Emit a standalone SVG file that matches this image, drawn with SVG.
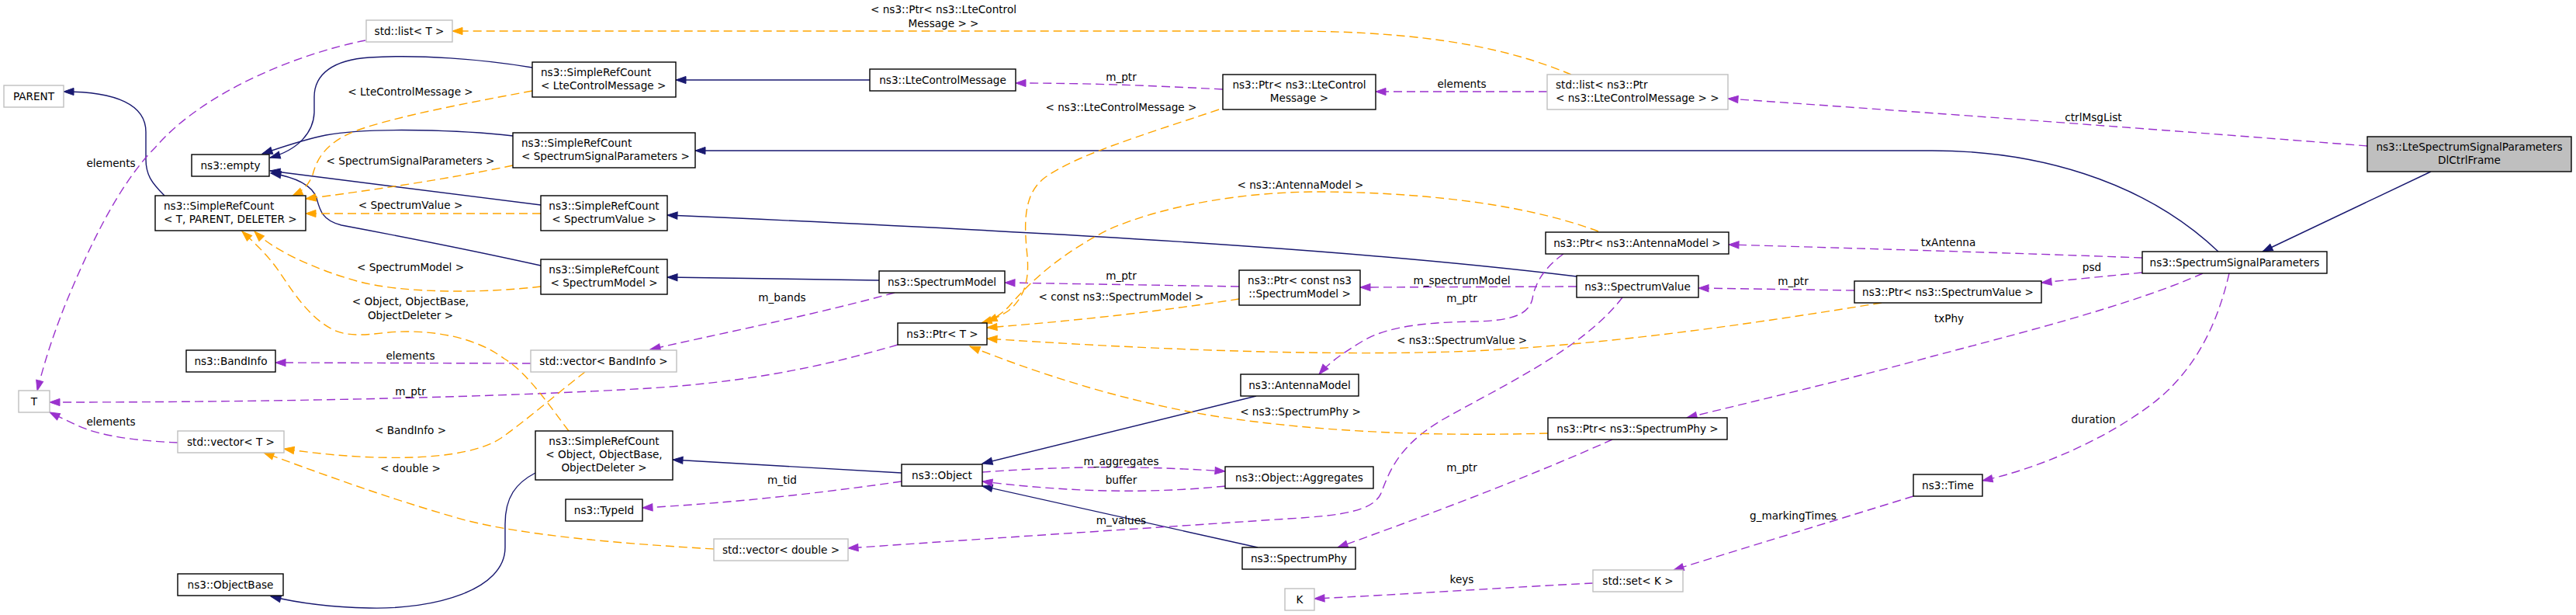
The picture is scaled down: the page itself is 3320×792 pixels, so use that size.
<svg xmlns="http://www.w3.org/2000/svg" width="3320" height="792" viewBox="0 0 3320 792">
<defs>
<style>
text{font-family:"DejaVu Sans","Liberation Sans",sans-serif;font-size:13.6px;fill:#000}
.nd rect{fill:#fff;stroke:#000;stroke-width:1.4}
.ug rect{stroke:#bfbfbf}
.hl rect{fill:#bfbfbf}
.m{text-anchor:middle}
#edges path{fill:none;stroke-width:1.4}
.inh{stroke:#191970;marker-end:url(#ab)}
.use{stroke:#9a32cd;stroke-dasharray:11,6;marker-end:url(#ap)}
.tpl{stroke:#ffa500;stroke-dasharray:11,6;marker-end:url(#ao)}
</style>
<marker id="ab" markerUnits="userSpaceOnUse" markerWidth="16" markerHeight="12" refX="13" refY="5" orient="auto" overflow="visible"><path d="M0,0.4 L13,5 L0,9.6 z" fill="#191970" stroke="#191970" stroke-width="1" stroke-dasharray="none"/></marker>
<marker id="ap" markerUnits="userSpaceOnUse" markerWidth="16" markerHeight="12" refX="13" refY="5" orient="auto" overflow="visible"><path d="M0,0.4 L13,5 L0,9.6 z" fill="#9a32cd" stroke="#9a32cd" stroke-width="1" stroke-dasharray="none"/></marker>
<marker id="ao" markerUnits="userSpaceOnUse" markerWidth="16" markerHeight="12" refX="13" refY="5" orient="auto" overflow="visible"><path d="M0,0.4 L13,5 L0,9.6 z" fill="#ffa500" stroke="#ffa500" stroke-width="1" stroke-dasharray="none"/></marker>
</defs>
<rect width="3320" height="792" fill="#fff"/>
<g id="edges">
<path class="inh" d="M212,252 C195,235 188,225 188,205 L188,170 C188,135 150,118 82,118"/>
<path class="inh" d="M686,87 C620,76 540,70 476,74 C430,77 405,95 405,125 L405,145 C404,170 385,193 348,203"/>
<path class="inh" d="M661,175 C600,168 480,163 420,174 C390,180 362,190 338,198"/>
<path class="inh" d="M697,264 L348,220"/>
<path class="inh" d="M697,342 C620,325 520,305 440,290 C415,284 412,270 408,255 C402,238 380,228 349,223"/>
<path class="inh" d="M1121,103 L871,103"/>
<path class="inh" d="M2859,324 C2760,230 2620,194 2490,194 L896,194"/>
<path class="inh" d="M2032,356 C1800,328 1500,305 860,277"/>
<path class="inh" d="M1133,361 L860,357"/>
<path class="inh" d="M1162,609 L867,592"/>
<path class="inh" d="M690,609 C665,622 651,640 651,675 L651,705 C651,760 560,785 476,783 C430,782 390,778 349,768"/>
<path class="inh" d="M1619,510 L1266,597"/>
<path class="inh" d="M1621,705 L1266,626"/>
<path class="inh" d="M3133,221 L2916,324"/>
<path class="use" d="M471,52 C380,70 260,120 200,190 C150,240 110,330 85,390 C65,440 55,475 48,503"/>
<path class="use" d="M229,570 C180,568 130,562 100,548 C85,541 72,535 64,531"/>
<path class="use" d="M684,468 L355,467"/>
<path class="use" d="M1157,444 C1050,475 950,495 800,502 C650,510 400,518 64,518"/>
<path class="use" d="M1153,377 C1050,405 950,425 838,450"/>
<path class="use" d="M1162,620 C1050,636 940,648 828,654"/>
<path class="use" d="M1266,608 C1350,602 1450,598 1579,607"/>
<path class="use" d="M1579,626 C1480,636 1380,634 1266,620"/>
<path class="use" d="M2091,383 C2040,450 1930,500 1860,540 C1800,575 1790,610 1780,635 C1770,658 1730,664 1660,668 C1450,682 1250,695 1093,706"/>
<path class="use" d="M2015,327 C1990,345 1978,365 1975,385 C1970,405 1950,413 1900,414 C1850,415 1790,418 1755,440 C1730,455 1712,468 1700,482"/>
<path class="use" d="M1576,115 C1480,110 1400,107 1309,107"/>
<path class="use" d="M1994,118 L1773,118"/>
<path class="use" d="M3051,188 C2800,168 2500,146 2227,127"/>
<path class="use" d="M2761,332 C2600,326 2400,320 2228,315"/>
<path class="use" d="M2761,351 L2631,364"/>
<path class="use" d="M2839,352 C2750,392 2600,430 2490,459 C2400,484 2280,512 2174,538"/>
<path class="use" d="M2873,352 C2855,430 2820,490 2760,530 C2700,572 2620,605 2555,619"/>
<path class="use" d="M2032,369 L1753,370"/>
<path class="use" d="M2390,374 L2189,371"/>
<path class="use" d="M1597,369 L1295,364"/>
<path class="use" d="M2078,566 C1980,610 1850,660 1724,705"/>
<path class="use" d="M2466,639 L2157,734"/>
<path class="use" d="M2053,751 C1950,756 1800,766 1694,771"/>
<path class="tpl" d="M2025,96 C1950,65 1850,40 1660,40 L583,40"/>
<path class="tpl" d="M1571,141 C1470,175 1385,200 1345,230 C1318,252 1320,290 1324,330 C1327,365 1318,385 1300,400 C1290,407 1278,412 1265,416"/>
<path class="tpl" d="M2060,298 C1980,268 1860,248 1700,247 C1600,247 1500,265 1430,295 C1370,325 1330,360 1300,395 C1290,405 1282,410 1272,414"/>
<path class="tpl" d="M1597,385 C1500,400 1400,412 1272,422"/>
<path class="tpl" d="M2425,390 C2300,410 2100,442 1900,452 C1700,460 1450,448 1272,436"/>
<path class="tpl" d="M1995,558 C1850,562 1700,557 1560,535 C1440,515 1330,478 1250,446"/>
<path class="tpl" d="M754,479 C720,505 680,540 646,564 C600,595 480,595 366,578"/>
<path class="tpl" d="M920,707 C800,700 680,690 600,670 C500,642 420,612 340,583"/>
<path class="tpl" d="M686,117 C600,133 510,150 460,168 C420,183 408,205 403,225 C398,238 390,246 377,252"/>
<path class="tpl" d="M661,213 C580,230 480,245 394,256"/>
<path class="tpl" d="M697,275 L394,275"/>
<path class="tpl" d="M697,369 C620,378 520,378 460,362 C400,345 350,320 328,298"/>
<path class="tpl" d="M733,555 C710,525 680,480 650,462 C620,440 580,428 529,427 C490,426 460,438 430,425 C400,410 380,380 360,350 C345,328 325,310 312,298"/>
</g>
<g id="labels" class="m">
<text x="143" y="215">elements</text>
<text x="529" y="123">&lt; LteControlMessage &gt;</text>
<text x="529" y="212">&lt; SpectrumSignalParameters &gt;</text>
<text x="529" y="269">&lt; SpectrumValue &gt;</text>
<text x="529" y="349">&lt; SpectrumModel &gt;</text>
<text x="529" y="393">&lt; Object, ObjectBase,</text>
<text x="529" y="411">ObjectDeleter &gt;</text>
<text x="529" y="463">elements</text>
<text x="529" y="509">m_ptr</text>
<text x="143" y="548">elements</text>
<text x="529" y="559">&lt; BandInfo &gt;</text>
<text x="529" y="608">&lt; double &gt;</text>
<text x="1216" y="17">&lt; ns3::Ptr&lt; ns3::LteControl</text>
<text x="1216" y="35">Message &gt; &gt;</text>
<text x="1445" y="104">m_ptr</text>
<text x="1445" y="143">&lt; ns3::LteControlMessage &gt;</text>
<text x="1676" y="243">&lt; ns3::AntennaModel &gt;</text>
<text x="1445" y="360">m_ptr</text>
<text x="1445" y="387">&lt; const ns3::SpectrumModel &gt;</text>
<text x="1008" y="388">m_bands</text>
<text x="1008" y="623">m_tid</text>
<text x="1445" y="599">m_aggregates</text>
<text x="1445" y="623">buffer</text>
<text x="1445" y="675">m_values</text>
<text x="1676" y="535">&lt; ns3::SpectrumPhy &gt;</text>
<text x="1884" y="113">elements</text>
<text x="2511" y="317">txAntenna</text>
<text x="1884" y="366">m_spectrumModel</text>
<text x="1884" y="389">m_ptr</text>
<text x="2311" y="367">m_ptr</text>
<text x="1884" y="443">&lt; ns3::SpectrumValue &gt;</text>
<text x="1884" y="607">m_ptr</text>
<text x="2311" y="669">g_markingTimes</text>
<text x="1884" y="751">keys</text>
<text x="2698" y="156">ctrlMsgList</text>
<text x="2696" y="349">psd</text>
<text x="2512" y="415">txPhy</text>
<text x="2698" y="545">duration</text>
</g>
<g id="n_parent" class="nd ug"><rect x="5" y="110" width="77" height="28"/><text class="m" x="43.5" y="128.5">PARENT</text></g>
<g id="n_stdlist_t" class="nd ug"><rect x="472" y="26" width="111" height="28"/><text class="m" x="527.5" y="44.5">std::list&lt; T &gt;</text></g>
<g id="n_empty" class="nd"><rect x="247" y="199" width="100" height="28"/><text class="m" x="297" y="217.5">ns3::empty</text></g>
<g id="n_src_t" class="nd"><rect x="200" y="252" width="194" height="45"/><text x="211" y="269.5">ns3::SimpleRefCount</text><text x="211" y="287">&lt; T, PARENT, DELETER &gt;</text></g>
<g id="n_src_lcm" class="nd"><rect x="686" y="80" width="185" height="45"/><text x="697" y="97.5">ns3::SimpleRefCount</text><text x="697" y="115">&lt; LteControlMessage &gt;</text></g>
<g id="n_src_ssp" class="nd"><rect x="661" y="171" width="235" height="45"/><text x="672" y="188.5">ns3::SimpleRefCount</text><text x="672" y="206">&lt; SpectrumSignalParameters &gt;</text></g>
<g id="n_src_sv" class="nd"><rect x="697" y="252" width="163" height="45"/><text class="m" x="778.5" y="269.5">ns3::SimpleRefCount</text><text class="m" x="778.5" y="287">&lt; SpectrumValue &gt;</text></g>
<g id="n_src_sm" class="nd"><rect x="697" y="334" width="163" height="45"/><text class="m" x="778.5" y="351.5">ns3::SimpleRefCount</text><text class="m" x="778.5" y="369">&lt; SpectrumModel &gt;</text></g>
<g id="n_src_obj" class="nd"><rect x="690" y="555" width="177" height="63"/><text class="m" x="778.5" y="573">ns3::SimpleRefCount</text><text class="m" x="778.5" y="590">&lt; Object, ObjectBase,</text><text class="m" x="778.5" y="607">ObjectDeleter &gt;</text></g>
<g id="n_bandinfo" class="nd"><rect x="240" y="451" width="115" height="28"/><text class="m" x="297.5" y="469.5">ns3::BandInfo</text></g>
<g id="n_t" class="nd ug"><rect x="24" y="503" width="40" height="28"/><text class="m" x="44" y="521.5">T</text></g>
<g id="n_vector_t" class="nd ug"><rect x="229" y="555" width="137" height="28"/><text class="m" x="297.5" y="573.5">std::vector&lt; T &gt;</text></g>
<g id="n_objectbase" class="nd"><rect x="229" y="739" width="136" height="28"/><text class="m" x="297" y="757.5">ns3::ObjectBase</text></g>
<g id="n_typeid" class="nd"><rect x="729" y="643" width="99" height="28"/><text class="m" x="778.5" y="661.5">ns3::TypeId</text></g>
<g id="n_ltecontrolmessage" class="nd"><rect x="1121" y="89" width="188" height="28"/><text class="m" x="1215" y="107.5">ns3::LteControlMessage</text></g>
<g id="n_ptr_lcm" class="nd"><rect x="1576" y="96" width="197" height="45"/><text class="m" x="1674.5" y="113.5">ns3::Ptr&lt; ns3::LteControl</text><text class="m" x="1674.5" y="131">Message &gt;</text></g>
<g id="n_spectrummodel" class="nd"><rect x="1133" y="349" width="162" height="28"/><text class="m" x="1214" y="367.5">ns3::SpectrumModel</text></g>
<g id="n_vector_bandinfo" class="nd ug"><rect x="684" y="451" width="188" height="28"/><text class="m" x="778" y="469.5">std::vector&lt; BandInfo &gt;</text></g>
<g id="n_ptr_t" class="nd"><rect x="1157" y="416" width="115" height="28"/><text class="m" x="1214.5" y="434.5">ns3::Ptr&lt; T &gt;</text></g>
<g id="n_ptr_csm" class="nd"><rect x="1597" y="348" width="156" height="45"/><text class="m" x="1675" y="365.5">ns3::Ptr&lt; const ns3</text><text class="m" x="1675" y="383">::SpectrumModel &gt;</text></g>
<g id="n_object" class="nd"><rect x="1162" y="598" width="104" height="28"/><text class="m" x="1214" y="616.5">ns3::Object</text></g>
<g id="n_antennamodel" class="nd"><rect x="1599" y="482" width="152" height="28"/><text class="m" x="1675" y="500.5">ns3::AntennaModel</text></g>
<g id="n_aggregates" class="nd"><rect x="1579" y="601" width="191" height="28"/><text class="m" x="1674.5" y="619.5">ns3::Object::Aggregates</text></g>
<g id="n_spectrumphy" class="nd"><rect x="1601" y="705" width="146" height="28"/><text class="m" x="1674" y="723.5">ns3::SpectrumPhy</text></g>
<g id="n_vector_double" class="nd ug"><rect x="920" y="694" width="173" height="28"/><text class="m" x="1006.5" y="712.5">std::vector&lt; double &gt;</text></g>
<g id="n_list_ptr_lcm" class="nd ug"><rect x="1994" y="96" width="233" height="45"/><text x="2005" y="113.5">std::list&lt; ns3::Ptr</text><text x="2005" y="131">&lt; ns3::LteControlMessage &gt; &gt;</text></g>
<g id="n_ptr_am" class="nd"><rect x="1992" y="299" width="236" height="28"/><text class="m" x="2110" y="317.5">ns3::Ptr&lt; ns3::AntennaModel &gt;</text></g>
<g id="n_spectrumvalue" class="nd"><rect x="2032" y="355" width="157" height="28"/><text class="m" x="2110.5" y="373.5">ns3::SpectrumValue</text></g>
<g id="n_ptr_sv" class="nd"><rect x="2390" y="362" width="241" height="28"/><text class="m" x="2510.5" y="380.5">ns3::Ptr&lt; ns3::SpectrumValue &gt;</text></g>
<g id="n_ptr_sp" class="nd"><rect x="1995" y="538" width="231" height="28"/><text class="m" x="2110.5" y="556.5">ns3::Ptr&lt; ns3::SpectrumPhy &gt;</text></g>
<g id="n_time" class="nd"><rect x="2466" y="611" width="89" height="28"/><text class="m" x="2510.5" y="629.5">ns3::Time</text></g>
<g id="n_set_k" class="nd ug"><rect x="2053" y="734" width="116" height="28"/><text class="m" x="2111" y="752.5">std::set&lt; K &gt;</text></g>
<g id="n_k" class="nd ug"><rect x="1656" y="758" width="38" height="28"/><text class="m" x="1675" y="776.5">K</text></g>
<g id="n_ssp" class="nd"><rect x="2761" y="324" width="238" height="28"/><text class="m" x="2880" y="342.5">ns3::SpectrumSignalParameters</text></g>
<g id="n_dlctrlframe" class="nd hl"><rect x="3051" y="176" width="263" height="45"/><text class="m" x="3182.5" y="193.5">ns3::LteSpectrumSignalParameters</text><text class="m" x="3182.5" y="211">DlCtrlFrame</text></g>
</svg>
